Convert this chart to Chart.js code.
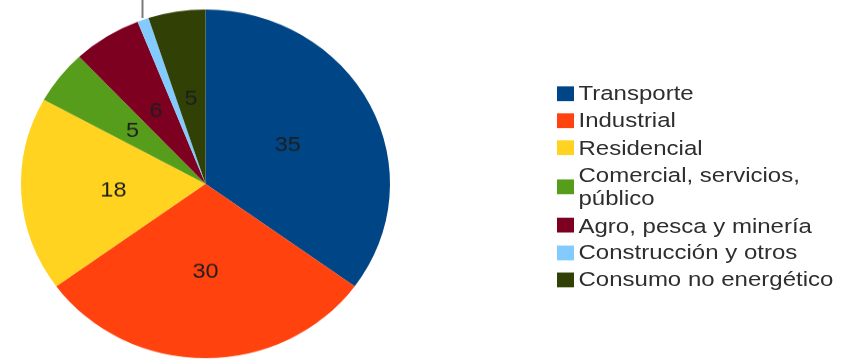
<!DOCTYPE html>
<html>
<head>
<meta charset="utf-8">
<script src="https://cdn.jsdelivr.net/npm/chart.js@4"></script>
<style>
  html, body { margin: 0; padding: 0; background: #fff; }
  body { width: 852px; height: 360px; overflow: hidden; position: relative; }
  /* pie is drawn on a taller canvas and squeezed to an ellipse */
  #stage { position: absolute; left: 0; top: 0; width: 852px; height: 381px;
           transform: scale(1, 0.9449); transform-origin: 0 0; }
  #legend { position: absolute; left: 557px; top: 81.5px; margin: 0; padding: 0;
            list-style: none; transform: scale(1, 0.87); transform-origin: 0 0;
            font-family: "Liberation Sans", Arial, sans-serif; font-size: 24px;
            color: #2e2e2e; }
  #legend li { display: flex; align-items: center; margin: 0 0 4.9px 0; }
  #legend .sw { width: 17px; height: 17.2px; flex: none; margin-right: 4.5px; }
  #legend .tx { width: 264px; line-height: 26.4px; white-space: normal; }
</style>
</head>
<body>
<div id="stage"><canvas id="pie" width="852" height="381"></canvas></div>
<ul id="legend"></ul>
<script>
// Energy consumption shares by sector (%)
const categories = [
  'Transporte',
  'Industrial',
  'Residencial',
  'Comercial, servicios, público',
  'Agro, pesca y minería',
  'Construcción y otros',
  'Consumo no energético'
];
const shares = [35, 30, 18, 5, 6, 1, 5];
const sliceColors = ['#004586', '#ff420e', '#ffd320', '#579d1c', '#7e0021', '#83caff', '#314004'];

// Values drawn inside their slice; slices too thin get a leader line instead
const sliceLabels = {
  id: 'sliceLabels',
  afterDatasetsDraw(chart) {
    const ctx = chart.ctx;
    const meta = chart.getDatasetMeta(0);
    const values = chart.data.datasets[0].data;
    meta.data.forEach((arc, i) => {
      const span = arc.endAngle - arc.startAngle;
      if (span < 0.15) {
        const mid = (arc.startAngle + arc.endAngle) / 2;
        const px = arc.x + Math.cos(mid) * (arc.outerRadius + 2);
        const py = arc.y + Math.sin(mid) * (arc.outerRadius + 2);
        ctx.save();
        ctx.strokeStyle = '#7a7a7a';
        ctx.lineWidth = 2;
        ctx.beginPath();
        ctx.moveTo(Math.round(px) + 0.5, py);
        ctx.lineTo(Math.round(px) + 0.5, -20);
        ctx.stroke();
        ctx.restore();
        return;
      }
      const pos = arc.tooltipPosition();
      ctx.save();
      ctx.translate(pos.x, pos.y);
      ctx.scale(1, 0.92);
      ctx.font = '23.5px "Liberation Sans", Arial, sans-serif';
      ctx.fillStyle = '#1e1e1e';
      ctx.textAlign = 'center';
      ctx.textBaseline = 'middle';
      ctx.fillText(String(values[i]), 0, 1.5);
      ctx.restore();
    });
  }
};

new Chart(document.getElementById('pie'), {
  type: 'pie',
  data: {
    labels: categories,
    datasets: [{
      data: shares,
      backgroundColor: sliceColors,
      borderWidth: 0
    }]
  },
  options: {
    responsive: false,
    animation: false,
    events: [],
    layout: { padding: { left: 21, right: 462, top: 10, bottom: 2 } },
    plugins: {
      legend: { display: false },
      tooltip: { enabled: false }
    }
  },
  plugins: [sliceLabels]
});

// Legend list built from the same categories and colours
const legend = document.getElementById('legend');
categories.forEach((name, i) => {
  const li = document.createElement('li');
  const sw = document.createElement('span');
  sw.className = 'sw';
  sw.style.background = sliceColors[i];
  const tx = document.createElement('span');
  tx.className = 'tx';
  tx.textContent = name;
  li.appendChild(sw);
  li.appendChild(tx);
  legend.appendChild(li);
});
</script>
</body>
</html>
